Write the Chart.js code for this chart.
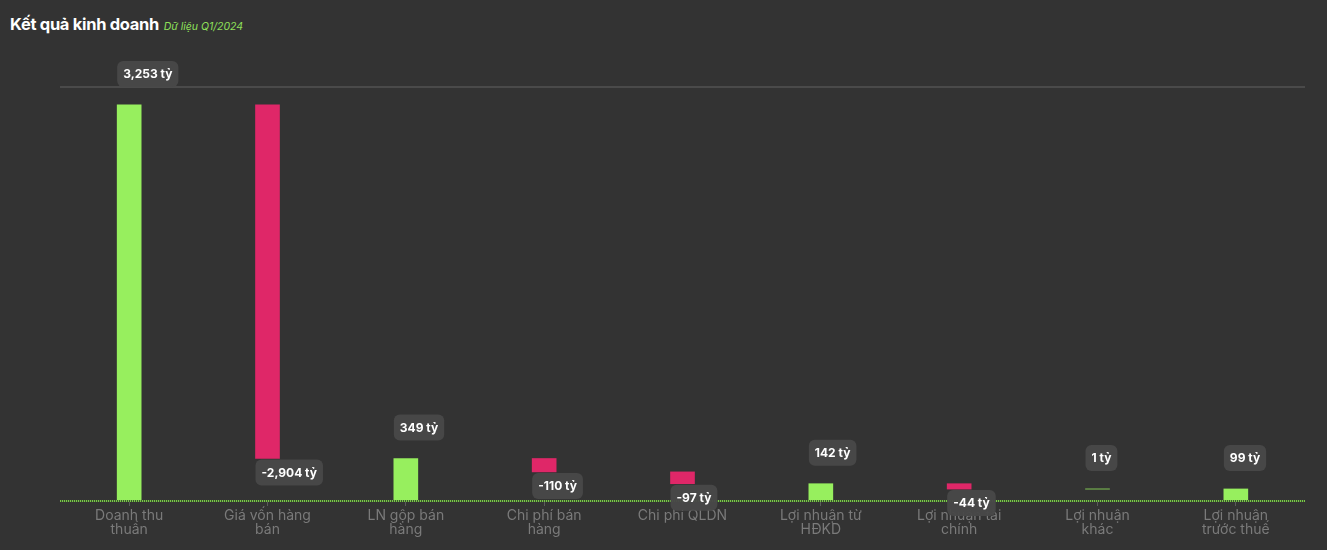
<!DOCTYPE html>
<html>
<head>
<meta charset="utf-8">
<script src="https://cdn.jsdelivr.net/npm/chart.js@4"></script>
<style>
  html, body { margin: 0; padding: 0; background: #333333; }
  body { width: 1327px; height: 550px; position: relative; overflow: hidden; font-family: Inter, "Noto Sans", sans-serif; }
  #title { position: absolute; left: 10px; top: 14px; color: #fff; font-weight: 700; font-size: 16.5px; letter-spacing: -0.3px; }
  #title span { color: #8fe05a; font-style: italic; font-weight: 400; font-size: 10.5px; margin-left: 1px; letter-spacing: 0; }
  #wrap { position: absolute; left: 0; top: 0; width: 1327px; height: 550px; }
</style>
</head>
<body>
<div id="title">Kết quả kinh doanh <span>Dữ liệu Q1/2024</span></div>
<div id="wrap"><canvas id="chart"></canvas></div>
<script>
// ---------- data ----------
const categories = [
  ["Doanh thu", "thuần"],
  ["Giá vốn hàng", "bán"],
  ["LN gộp bán", "hàng"],
  ["Chi phí bán", "hàng"],
  "Chi phí QLDN",
  ["Lợi nhuận từ", "HĐKD"],
  ["Lợi nhuận tài", "chính"],
  ["Lợi nhuận", "khác"],
  ["Lợi nhuận", "trước thuế"],
];
const values = [3253, -2904, 349, -110, -97, 142, -44, 1, 99];
const isTotal = [true, false, true, false, false, true, false, false, true];
const yMax = 3400;

const GREEN = "#97ef5e";
const RED = "#df2768";

// floating bars for the waterfall
let running = 0;
const ranges = values.map((v, i) => {
  if (isTotal[i]) { running = v; return [0, v]; }
  const start = running;
  running += v;
  return [start, running];
});

// ---------- value labels + dotted green baseline ----------
const overlay = {
  id: "overlay",
  afterDraw(chart) {
    const { ctx, chartArea } = chart;
    const y = Math.round(chart.scales.y.getPixelForValue(0));
    ctx.save();
    ctx.fillStyle = "#3d552e";
    ctx.fillRect(chartArea.left, y - 1, chartArea.right - chartArea.left, 2);
    ctx.fillStyle = "#78c948";
    for (let x = Math.round(chartArea.left); x < chartArea.right; x += 2) {
      ctx.fillRect(x, y - 1, 1, 2);
    }

    const meta = chart.getDatasetMeta(0);
    ctx.font = "700 12px Inter, 'Noto Sans', sans-serif";
    ctx.textBaseline = "middle";
    meta.data.forEach((el, i) => {
      const v = values[i];
      const text = v.toLocaleString("en-US") + " tỷ";
      const w = ctx.measureText(text).width + 12;
      const h = 26;
      const left = el.x - el.width / 2;
      const top = Math.min(el.y, el.base);
      const bottom = Math.max(el.y, el.base);
      const by = v >= 0 ? top - 18 - h : bottom + 1;
      ctx.fillStyle = "rgba(72,72,72,0.96)";
      ctx.beginPath();
      ctx.roundRect(left, by, w, h, 6);
      ctx.fill();
      ctx.fillStyle = "#ffffff";
      ctx.textAlign = "left";
      ctx.fillText(text, left + 6, by + h / 2 + 0.5);
    });
    ctx.restore();
  },
};

Chart.defaults.font.family = "Inter, 'Noto Sans', sans-serif";

new Chart(document.getElementById("chart"), {
  type: "bar",
  data: {
    labels: categories,
    datasets: [{
      data: ranges,
      backgroundColor: values.map((v) => (v >= 0 ? GREEN : RED)),
      barThickness: 24,
      borderSkipped: false,
    }],
  },
  options: {
    responsive: true,
    maintainAspectRatio: false,
    animation: false,
    layout: { padding: { top: 87, right: 22, left: 60, bottom: 10 } },
    plugins: { legend: { display: false }, tooltip: { enabled: false } },
    scales: {
      x: {
        grid: { offset: false, drawOnChartArea: false, drawTicks: true, tickLength: 5, color: "#5a5a5a" },
        border: { display: false },
        ticks: { color: "#7a7a7a", font: { size: 14, lineHeight: 1.0 }, maxRotation: 0, autoSkip: false, padding: 3 },
      },
      y: {
        min: 0,
        max: yMax,
        afterBuildTicks: (axis) => { axis.ticks = [{ value: 0 }, { value: yMax }]; },
        ticks: { display: false },
        grid: {
          drawTicks: false,
          lineWidth: 2,
          color: (c) => (c.tick && c.tick.value === yMax ? "#4a4a4a" : "rgba(0,0,0,0)"),
        },
        border: { display: false },
      },
    },
  },
  plugins: [overlay],
});
</script>
</body>
</html>
